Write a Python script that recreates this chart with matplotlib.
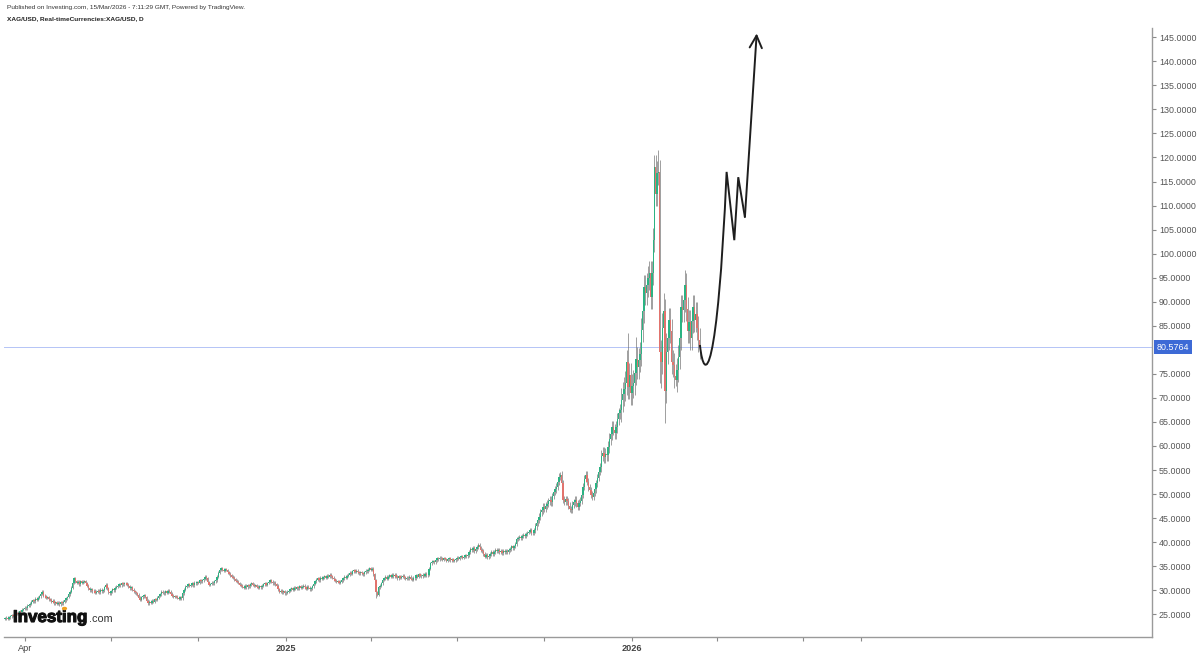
import numpy as np
import pandas as pd
from matplotlib import pyplot as plt
from matplotlib import transforms
from matplotlib import patheffects
from matplotlib.patches import Circle, PathPatch
from matplotlib.path import Path

# daily closes XAG/USD, one row per trading week (Mon..Fri), from 11 Mar 2024
closes = [
    24.2, 24.3, 24.1, 24.4, 24.6,
    24.8, 24.7, 25.0, 25.2, 25.1,
    25.3, 25.6, 25.4, 25.9, 26.1,
    26.4, 26.2, 26.8, 26.9, 27.2,
    27.6, 27.9, 27.7, 28.2, 28.0,
    28.4, 28.7, 29.3, 29.7, 28.9,
    28.7, 28.4, 28.6, 28.1, 28.0,
    27.6, 27.8, 27.3, 27.5, 27.2,
    27.4, 27.1, 27.5, 27.3, 27.6,
    27.9, 28.3, 28.6, 29.2, 29.7,
    30.5, 31.6, 32.5, 31.9, 31.6,
    31.8, 31.2, 31.9, 31.5, 31.8,
    31.9, 31.4, 30.9, 30.4, 30.0,
    30.2, 29.8, 29.9, 29.5, 29.7,
    29.9, 29.6, 30.1, 29.8, 30.0,
    30.6, 31.1, 30.4, 29.6, 29.4,
    29.8, 30.2, 30.0, 30.5, 30.7,
    30.9, 31.3, 31.0, 31.4, 31.2,
    31.5, 31.4, 31.1, 30.8, 30.4,
    30.6, 30.1, 29.8, 29.6, 29.4,
    29.1, 28.4, 28.0, 28.5, 28.7,
    29.0, 28.6, 27.8, 27.3, 27.6,
    27.4, 27.8, 27.6, 28.1, 28.0,
    28.4, 28.9, 29.2, 29.7, 29.5,
    29.4, 29.8, 29.5, 29.9, 29.7,
    29.3, 28.9, 28.6, 28.8, 28.65,
    28.4, 28.2, 28.6, 28.3, 29.4,
    30.1, 30.7, 30.9, 31.2, 30.9,
    31.1, 31.4, 31.0, 31.6, 31.4,
    31.7, 31.5, 32.1, 31.9, 32.1,
    32.4, 32.8, 32.5, 31.7, 31.1,
    31.3, 31.6, 31.4, 31.9, 32.1,
    32.8, 33.6, 34.2, 34.6, 34.3,
    34.0, 34.4, 34.2, 33.7, 33.4,
    33.1, 32.8, 32.6, 32.3, 32.0,
    31.8, 31.5, 31.1, 30.9, 30.7,
    30.5, 30.9, 30.6, 31.0, 30.8,
    31.2, 31.4, 31.1, 30.9, 31.0,
    30.7, 30.5, 30.8, 30.6, 30.9,
    31.2, 31.4, 31.1, 31.5, 31.8,
    32.1, 31.8, 31.4, 31.6, 31.2,
    30.9, 30.2, 29.7, 29.9, 29.6,
    29.8, 29.4, 29.5, 29.7, 29.9,
    30.2, 30.4, 30.1, 30.5, 30.3,
    30.6, 30.4, 30.8, 30.5, 30.7,
    30.9, 30.6, 30.3, 30.7, 30.5,
    30.2, 30.4, 30.8, 31.3, 31.9,
    32.2, 32.5, 32.1, 32.6, 32.4,
    32.7, 32.9, 32.6, 33.0, 32.8,
    33.2, 32.9, 32.6, 32.3, 32.0,
    31.7, 31.9, 31.6, 31.8, 32.1,
    32.5, 32.8, 32.6, 33.0, 33.2,
    33.6, 33.4, 33.9, 34.2, 33.8,
    34.1, 33.7, 33.5, 33.8, 33.5,
    33.3, 33.7, 34.1, 33.9, 34.3,
    34.6, 34.2, 34.5, 33.3, 32.1,
    29.6, 29.0, 30.6, 30.9, 31.4,
    32.2, 32.5, 32.8, 32.4, 32.8,
    33.1, 32.8, 33.2, 32.9, 33.2,
    32.8, 32.5, 32.9, 32.6, 32.8,
    33.0, 32.7, 32.4, 32.6, 32.5,
    32.8, 32.4, 32.2, 32.6, 32.5,
    33.1, 32.8, 33.3, 33.0, 32.9,
    33.2, 33.0, 33.4, 33.1, 33.2,
    34.5, 35.6, 35.9, 36.0, 35.8,
    36.2, 36.6, 36.4, 36.8, 36.6,
    36.3, 36.7, 36.5, 36.1, 36.4,
    36.6, 36.2, 36.4, 36.1, 36.25,
    36.4, 36.8, 36.5, 36.9, 37.1,
    36.8, 37.0, 37.3, 37.1, 37.4,
    38.0, 38.5, 38.3, 38.7, 38.2,
    38.6, 39.0, 39.4, 38.9, 38.4,
    38.1, 37.6, 37.0, 37.3, 36.9,
    37.2, 37.5, 37.9, 37.6, 38.0,
    38.3, 38.1, 38.4, 38.0, 38.2,
    37.8, 38.1, 37.9, 38.2, 38.0,
    38.3, 38.6, 39.1, 38.8, 39.1,
    39.6, 40.6, 40.9, 41.1, 40.8,
    41.2, 41.5, 41.2, 41.7, 42.0,
    42.2, 42.6, 41.9, 41.8, 42.5,
    43.3, 44.0, 44.6, 45.3, 46.2,
    46.6, 47.4, 46.9, 47.6, 48.0,
    48.5, 48.8, 48.3, 49.6, 50.4,
    51.0, 51.5, 52.6, 53.6, 54.0,
    52.2, 48.8, 48.4, 48.9, 48.5,
    47.6, 46.9, 46.7, 47.8, 48.3,
    48.8, 48.1, 47.4, 48.2, 48.6,
    49.8, 51.5, 53.2, 54.0, 52.6,
    51.4, 50.8, 49.9, 49.45, 50.2,
    51.0, 52.2, 53.4, 54.6, 55.7,
    58.0, 58.5, 57.7, 58.3, 58.1,
    59.8, 61.4, 62.5, 64.0, 63.4,
    62.6, 64.0, 65.6, 66.8, 67.5,
    69.6, 70.8, 71.8, 73.0, 77.5,
    72.3, 74.8, 71.0, 72.4, 73.2,
    75.1, 78.0, 76.5, 77.8, 79.2,
    84.1, 88.0, 93.1, 91.8, 93.5,
    95.0, 95.9, 91.0, 96.0, 102.8,
    118.1, 112.5, 116.7, 117.0, 79.5,
    77.5, 84.5, 88.0, 71.5, 79.5,
    82.5, 86.2, 84.0, 77.5, 76.8,
    74.5, 73.7, 75.8, 78.6, 82.5,
    89.0, 88.2, 90.4, 93.5, 88.5,
    84.0, 85.8, 82.5, 86.0, 89.0,
    86.2, 87.5, 84.5, 82.0, 80.58,
]
first_open = 24.1
last_price = 80.5764

# typical wick length per era: (first week, wick in $)
wick_eras = [(0, 0.3), (70, 0.4), (80, 0.7), (90, 1.2), (93, 2.5)]
# bars with long wicks that stand out
high_marks = {419: 54.5, 470: 83.4, 476: 82.7, 493: 121.6, 496: 87.6, 497: 91.8, 499: 83.4, 513: 96.6}
low_marks = {280: 28.3, 494: 73.1, 495: 72.0, 498: 64.7, 506: 72.5}

# hand drawn projection (bar index, price): U-turn as a bezier, then a zigzag up to the arrow tip
proj_curve = [(524.3, 81.0), (527.5, 72.5), (537.5, 74.0), (544.4, 117.0)]
proj_zigzag = [(550.2, 102.8), (553.2, 115.9), (558.2, 107.6)]
proj_tip = (567.1, 145.8)

tick_dates = ['2024-04-01', '2024-07-01', '2024-10-01', '2025-01-01', '2025-04-01', '2025-07-01',
              '2025-10-01', '2026-01-01', '2026-04-01', '2026-07-01', '2026-09-01']
tick_labels = ['Apr', '', '', '2025', '', '', '', '2026', '', '', '']
start = '2024-03-11'

plt.rcParams['font.family'] = ['Liberation Sans', 'DejaVu Sans']

closes = np.array(closes)
n = len(closes)
x = np.arange(n)
opens = np.concatenate([[first_open], closes[:-1]])

wick = np.zeros(n)
for w0, size in wick_eras:
    wick[x // 5 >= w0] = size
highs = np.maximum(opens, closes) + wick
lows = np.minimum(opens, closes) - wick
for i, v in high_marks.items():
    highs[i] = v
for i, v in low_marks.items():
    lows[i] = v

up = closes >= opens
body_col = np.where(up, '#2bb383', '#e2736d')

fig = plt.figure(figsize=(12, 6.54), dpi=100)
ax = fig.add_axes([4 / 1200, 17 / 654, 1148 / 1200, 609 / 654])

ax.vlines(x, lows, highs, color='#6a6a6a', lw=0.45, zorder=2)
ax.bar(x, np.maximum(np.abs(closes - opens), 0.08), bottom=np.minimum(opens, closes),
       width=1.0, color=body_col, linewidth=0, zorder=3)

ax.axhline(last_price, color='#b4c4f6', lw=0.7, zorder=1)

# projection drawing
verts = proj_curve + proj_zigzag
codes = [Path.MOVETO, Path.CURVE4, Path.CURVE4, Path.CURVE4] + [Path.LINETO] * len(proj_zigzag)
ax.add_patch(PathPatch(Path(verts, codes), fill=False, ec='#1e1e1e', lw=1.4,
                       joinstyle='miter', zorder=4))
ax.annotate('', xy=proj_tip, xytext=proj_zigzag[-1],
            arrowprops=dict(arrowstyle='->', color='#1e1e1e', lw=1.4, mutation_scale=22,
                            shrinkA=0, shrinkB=0), zorder=4)

ax.set_xlim(-0.7, 865.3)
ax.set_ylim(20.27, 146.93)

# axes look
for s in ['top', 'left']:
    ax.spines[s].set_visible(False)
for s in ['right', 'bottom']:
    ax.spines[s].set_color('#9a9a9a')
    ax.spines[s].set_linewidth(1.0)

ax.yaxis.tick_right()
yt = [v for v in range(25, 150, 5) if v != 80]
ax.set_yticks(yt)
ax.set_yticklabels([f'{v:.4f}' for v in yt])
ax.tick_params(axis='y', length=3, width=0.8, color='#8a8a8a', labelcolor='#555555',
               labelsize=6.4, pad=2)

xt = [np.busday_count(start, d) for d in tick_dates]
ax.set_xticks(xt)
ax.set_xticklabels(tick_labels)
ax.tick_params(axis='x', length=3, width=0.8, color='#8a8a8a', labelcolor='#444444',
               labelsize=6.6, pad=2)
for lab in ax.get_xticklabels():
    if lab.get_text().isdigit():
        lab.set_fontweight('bold')

# last price tag
trans = transforms.blended_transform_factory(ax.transAxes, ax.transData)
ax.text(1.004, last_price, f'{last_price:.4f}', transform=trans, ha='left', va='center',
        color='white', fontsize=6.4,
        bbox=dict(boxstyle='square,pad=0.3', fc='#3d6ad6', ec='none'))

# header
fig.text(7 / 1200, 1 - 7 / 654, 'Published on Investing.com, 15/Mar/2026 - 7:11:29 GMT, Powered by TradingView.',
         fontsize=4.65, color='#333333', va='center', ha='left')
fig.text(7 / 1200, 1 - 19 / 654, 'XAG/USD, Real-timeCurrencies:XAG/USD, D',
         fontsize=4.65, color='#222222', fontweight='bold', va='center', ha='left')

# watermark logo
fig.text(13 / 1200, 1 - 622 / 654, 'Investing', fontsize=12.2, fontweight='bold',
         color='#111111', va='baseline', ha='left', zorder=10,
         path_effects=[patheffects.withStroke(linewidth=0.8, foreground='#111111')])
fig.text(89 / 1200, 1 - 622 / 654, '.com', fontsize=7.8, color='#333333',
         va='baseline', ha='left', zorder=10)
fig.patches.append(Circle((64.5 / 1200, 1 - 608.5 / 654), 1.9 / 1200, transform=fig.transFigure,
                          color='#f0a020', zorder=11))

plt.savefig('out.png', dpi=100)
